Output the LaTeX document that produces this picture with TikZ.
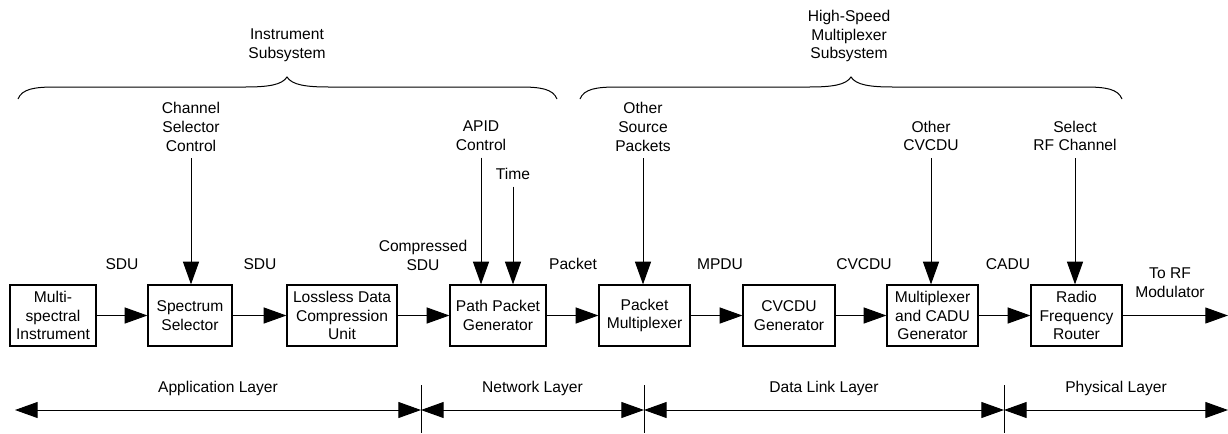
\documentclass[tikz,border=0pt]{standalone}
\usepackage{fontspec}
\setmainfont{Liberation Sans}
\usetikzlibrary{arrows.meta}

\begin{document}
\begin{tikzpicture}[x=0.75pt, y=-0.75pt,
    font=\fontsize{11.7pt}{14pt}\selectfont,
    block/.style={draw, line width=0.9pt, align=center, inner sep=1pt, minimum height=45.75pt},
    lbl/.style={align=center, inner sep=5pt},
    arr/.style={line width=0.75pt, -{Triangle[length=17pt, width=12pt]}},
    layerarr/.style={line width=0.75pt, {Triangle[length=17pt, width=12pt]}-{Triangle[length=17pt, width=12pt]}}]
    \useasboundingbox (0,0) rectangle (1228,433);

    % Subsystem braces
    \draw[line width=0.75pt] (18,99) .. controls (22,89) and (34,87) .. (55,87) -- (245,87)
        .. controls (268,87) and (282,85) .. (287,77) .. controls (292,85) and (306,87) .. (329,87)
        -- (520,87) .. controls (541,87) and (553,89) .. (557,99);
    \draw[line width=0.75pt] (580,99) .. controls (584,89) and (596,87) .. (617,87) -- (809,87)
        .. controls (832,87) and (846,85) .. (851,77) .. controls (856,85) and (870,87) .. (893,87)
        -- (1085,87) .. controls (1106,87) and (1118,89) .. (1122,99);
    \node[align=center] (instsub) at (287,45) {Instrument\\Subsystem};
    \node[align=center] (hsmsub) at (849,36) {High-Speed\\Multiplexer\\Subsystem};

    % Processing chain
    \node[block, minimum width=64.5pt] (msi) at (53,315.5) {Multi-\\spectral\\Instrument};
    \node[block, minimum width=63pt] (spec) at (190,315.5) {Spectrum\\Selector};
    \node[block, minimum width=82.5pt] (ldc) at (342,315.5) {Lossless Data\\Compression\\Unit};
    \node[block, minimum width=72pt] (ppg) at (498,315.5) {Path Packet\\Generator};
    \node[block, minimum width=68.25pt] (pmux) at (644.5,315.5) {Packet\\Multiplexer};
    \node[block, minimum width=69pt] (cvgen) at (789,315.5) {CVCDU\\Generator};
    \node[block, minimum width=68.25pt] (cadugen) at (932.5,315.5) {Multiplexer\\and CADU\\Generator};
    \node[block, minimum width=68.25pt] (rfr) at (1076.5,315.5) {Radio\\Frequency\\Router};
    \coordinate (rfout) at (1228,315.5);

    \draw[arr] (msi) -- (spec);
    \draw[arr] (spec) -- (ldc);
    \draw[arr] (ldc) -- (ppg);
    \draw[arr] (ppg) -- (pmux);
    \draw[arr] (pmux) -- (cvgen);
    \draw[arr] (cvgen) -- (cadugen);
    \draw[arr] (cadugen) -- (rfr);
    \draw[arr] (rfr) -- (rfout);

    % Data units between blocks
    \node (sdua) at (122,264) {SDU};
    \node (sdub) at (260,264) {SDU};
    \node[align=center] (csdu) at (423,255.5) {Compressed\\SDU};
    \node (pkt) at (573,264) {Packet};
    \node (mpdu) at (720,264) {MPDU};
    \node (cvcdu) at (864,264) {CVCDU};
    \node (cadu) at (1008,264) {CADU};
    \node[align=center] (torf) at (1170,283) {To RF\\Modulator};

    % Control inputs
    \node[lbl] (chsel) at (191,127) {Channel\\Selector\\Control};
    \node[lbl] (apid) at (481,136) {APID\\Control};
    \node[lbl] (time) at (513,174) {Time};
    \node[lbl] (osp) at (643,127) {Other\\Source\\Packets};
    \node[lbl] (ocv) at (931,136) {Other\\CVCDU};
    \node[lbl] (selrf) at (1075,136) {Select\\RF Channel};

    \draw[arr] (chsel) -- (chsel |- spec.north);
    \draw[arr] (apid) -- (apid |- ppg.north);
    \draw[arr] (time) -- (time |- ppg.north);
    \draw[arr] (osp) -- (osp |- pmux.north);
    \draw[arr] (ocv) -- (ocv |- cadugen.north);
    \draw[arr] (selrf) -- (selrf |- rfr.north);

    % Layers
    \coordinate (lya) at (15,410);
    \coordinate (lyb) at (421,410);
    \coordinate (lyc) at (644,410);
    \coordinate (lyd) at (1004,410);
    \coordinate (lye) at (1228,410);
    \draw[layerarr] (lya) -- node[midway, yshift=16.5pt] (app) {Application Layer} (lyb);
    \draw[layerarr] (lyb) -- node[midway, yshift=16.5pt] (net) {Network Layer} (lyc);
    \draw[layerarr] (lyc) -- node[midway, yshift=16.5pt] (dll) {Data Link Layer} (lyd);
    \draw[layerarr] (lyd) -- node[midway, yshift=16.5pt] (phy) {Physical Layer} (lye);
    \foreach \b in {lyb, lyc, lyd}
        \draw[line width=0.75pt] (\b) ++(0,-25) -- ++(0,48);
\end{tikzpicture}
\end{document}
